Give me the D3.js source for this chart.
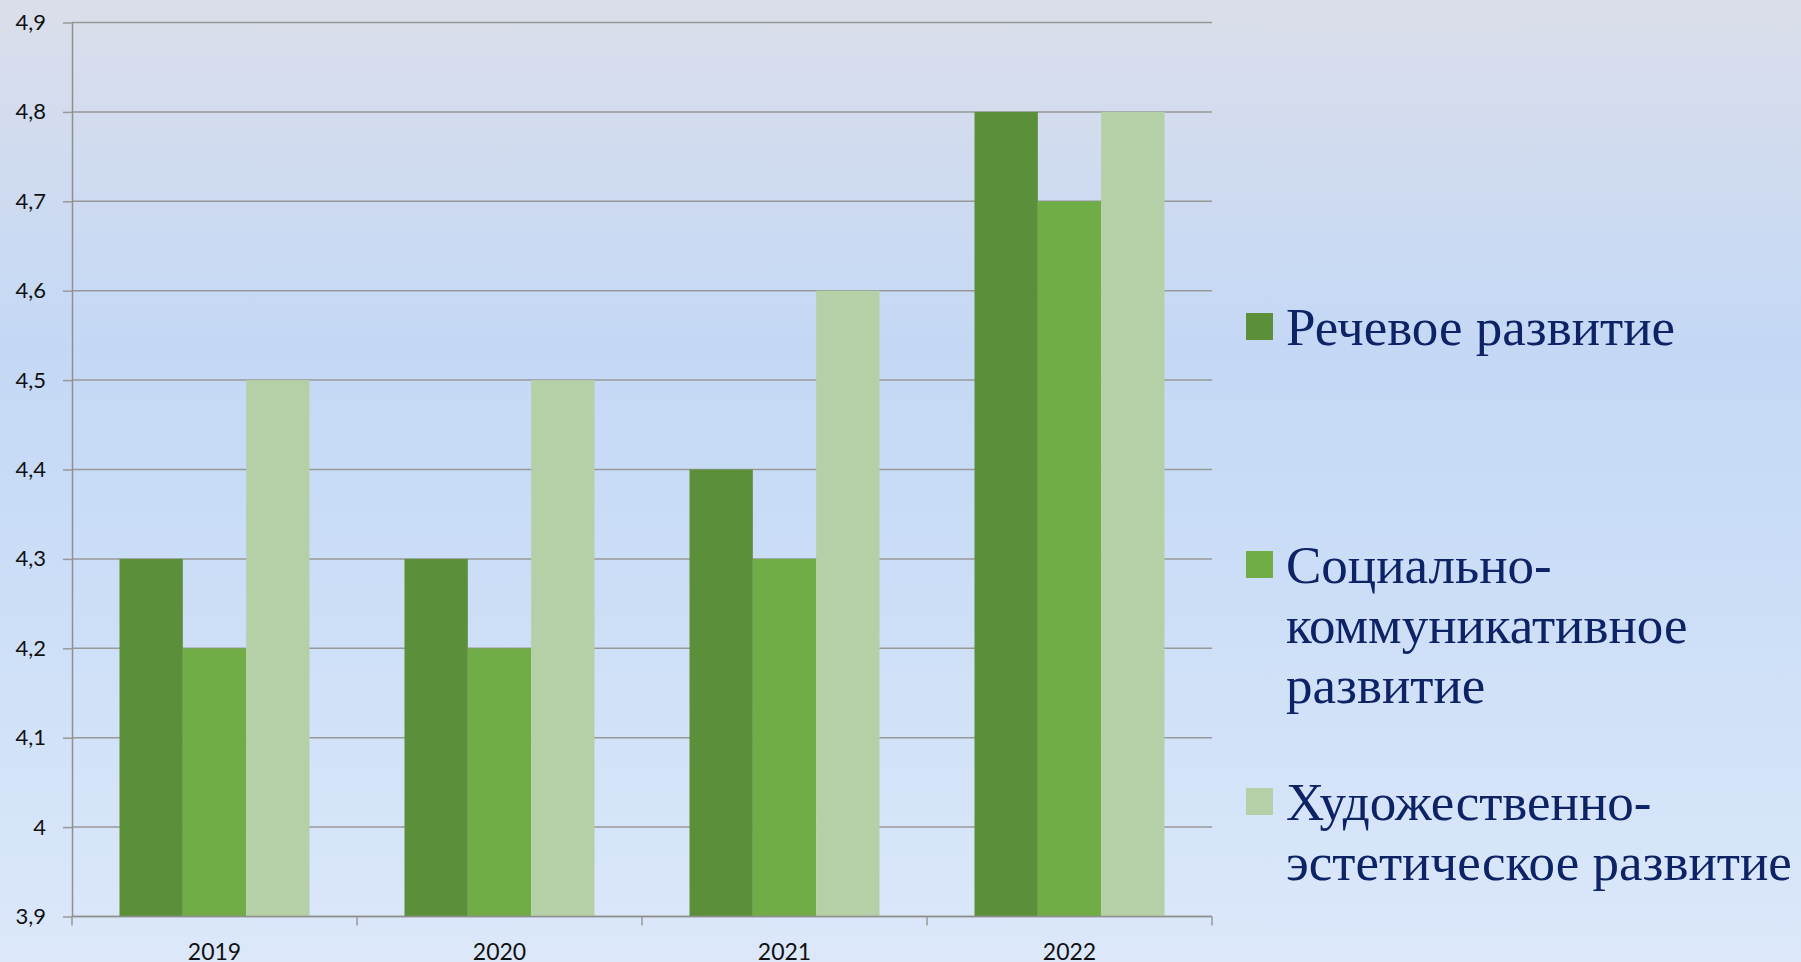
<!DOCTYPE html>
<html>
<head>
<meta charset="utf-8">
<script src="https://cdn.jsdelivr.net/npm/d3@7"></script>
<style>
	html, body { margin: 0; padding: 0; }
	body {
		width: 1801px; height: 962px; overflow: hidden;
		background: linear-gradient(to bottom, #dbdeea 0%, #cfdbf0 18%, #c4d8f5 36%, #cddff7 65%, #dce8fa 100%);
	}
	svg { display: block; }
</style>
</head>
<body>
<svg id="chart" width="1801" height="962"></svg>
<script>
// chart data
var years = ['2019', '2020', '2021', '2022'];
var seriesNames = ['Речевое развитие', 'Социально-коммуникативное развитие', 'Художественно-эстетическое развитие'];
var speechDev = [4.3, 4.3, 4.4, 4.8];
var socialDev = [4.2, 4.2, 4.3, 4.7];
var artDev = [4.5, 4.5, 4.6, 4.8];
var yTicks = [3.9, 4.0, 4.1, 4.2, 4.3, 4.4, 4.5, 4.6, 4.7, 4.8, 4.9];
// legend labels split into lines as in the picture
var legendLines = [
	['Речевое развитие'],
	['Социально-', 'коммуникативное', 'развитие'],
	['Художественно-', 'эстетическое развитие']
];

var colors = ['#5b8f3a', '#70ad47', '#b5cfa6'];
var values = [speechDev, socialDev, artDev];

var svg = d3.select('#chart');
var plotLeft = 72, plotRight = 1212, plotTop = 22.5, plotBottom = 916.5;

var x = d3.scaleBand().domain(years).range([plotLeft, plotRight]);
var xs = d3.scaleBand().domain(d3.range(seriesNames.length)).range([0, x.bandwidth()]).paddingInner(0).paddingOuter(0.75);
var y = d3.scaleLinear().domain([3.9, 4.9]).range([plotBottom, plotTop]);

var ru = d3.formatLocale({decimal: ',', thousands: ' ', grouping: [3], currency: ['', ' ₽']});
var fmt = ru.format('.1~f');

// gridlines
svg.append('g').selectAll('line')
	.data(yTicks)
	.enter().append('line')
	.attr('x1', plotLeft).attr('x2', plotRight)
	.attr('y1', function(d){ return y(d); })
	.attr('y2', function(d){ return y(d); })
	.attr('stroke', '#989898')
	.attr('stroke-width', 1.5);

// bars
var groups = svg.append('g').selectAll('g')
	.data(years)
	.enter().append('g')
	.attr('transform', function(d){ return 'translate(' + x(d) + ',0)'; });

groups.selectAll('rect')
	.data(function(d, i){ return values.map(function(v, s){ return {s: s, v: v[i]}; }); })
	.enter().append('rect')
	.attr('x', function(d){ return xs(d.s); })
	.attr('width', xs.bandwidth())
	.attr('y', function(d){ return y(d.v); })
	.attr('height', function(d){ return plotBottom - y(d.v); })
	.attr('fill', function(d){ return colors[d.s]; });

// y axis
var yAxis = svg.append('g')
	.attr('transform', 'translate(' + plotLeft + ',0)')
	.call(d3.axisLeft(y).tickValues(yTicks).tickFormat(fmt).tickSizeInner(9).tickSizeOuter(0).tickPadding(17));
yAxis.select('.domain').attr('stroke', '#8f8f8f').attr('stroke-width', 1.5);
yAxis.selectAll('.tick line').attr('stroke', '#989898').attr('stroke-width', 1.5);
yAxis.selectAll('.tick text')
	.attr('font-family', 'Lato, "Open Sans", sans-serif')
	.attr('font-size', 22)
	.attr('fill', '#111');

// x axis
var xAxis = svg.append('g')
	.attr('transform', 'translate(0,' + plotBottom + ')');
xAxis.append('line')
	.attr('x1', plotLeft).attr('x2', plotRight)
	.attr('stroke', '#8f8f8f').attr('stroke-width', 1.5);
xAxis.selectAll('line.tk')
	.data(years.map(function(d){ return x(d); }).concat([plotRight]))
	.enter().append('line')
	.attr('class', 'tk')
	.attr('x1', function(d){ return d; }).attr('x2', function(d){ return d; })
	.attr('y1', 0).attr('y2', 9)
	.attr('stroke', '#989898').attr('stroke-width', 1.5);
xAxis.selectAll('text')
	.data(years)
	.enter().append('text')
	.attr('x', function(d){ return x(d) + x.bandwidth() / 2; })
	.attr('y', 43)
	.attr('text-anchor', 'middle')
	.attr('font-family', 'Lato, "Open Sans", sans-serif')
	.attr('font-size', 23)
	.attr('fill', '#111')
	.text(function(d){ return d; });

// legend
var legendBase = [345, 583, 820];
var legend = svg.append('g').selectAll('g')
	.data(seriesNames)
	.enter().append('g')
	.attr('transform', function(d, i){ return 'translate(1246,' + legendBase[i] + ')'; });
legend.append('rect')
	.attr('y', -32)
	.attr('width', 27).attr('height', 27)
	.attr('fill', function(d, i){ return colors[i]; });
legend.append('text')
	.attr('font-family', '"Liberation Serif", "Times New Roman", serif')
	.attr('font-size', 53)
	.attr('fill', '#0d2366')
	.selectAll('tspan')
	.data(function(d, i){ return legendLines[i]; })
	.enter().append('tspan')
	.attr('x', 40)
	.attr('y', function(d, j){ return j * 60; })
	.text(function(d){ return d; });
</script>
</body>
</html>
